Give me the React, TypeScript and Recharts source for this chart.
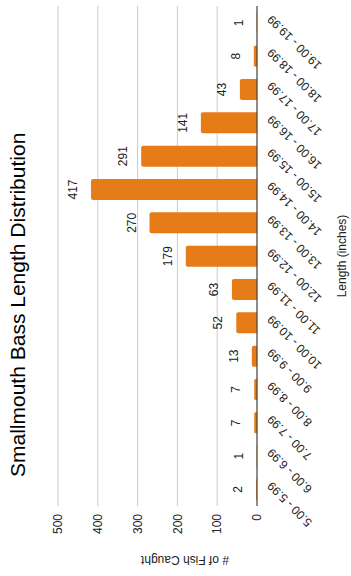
import React from "react";
import { BarChart, Bar, XAxis, YAxis, CartesianGrid, LabelList } from "recharts";

const categories = [
  "5.00 - 5.99",
  "6.00 - 6.99",
  "7.00 - 7.99",
  "8.00 - 8.99",
  "9.00 - 9.99",
  "10.00 - 10.99",
  "11.00 - 11.99",
  "12.00 - 12.99",
  "13.00 - 13.99",
  "14.00 - 14.99",
  "15.00 - 15.99",
  "16.00 - 16.99",
  "17.00 - 17.99",
  "18.00 - 18.99",
  "19.00 - 19.99",
];
const fishCaught = [2, 1, 7, 7, 13, 52, 63, 179, 270, 417, 291, 141, 43, 8, 1];
const yTicks = [0, 100, 200, 300, 400, 500];

const title = "Smallmouth Bass Length Distribution";
const xLabel = "Length (inches)";
const yLabel = "# of Fish Caught";

const data = categories.map((c, i) => ({ category: c, value: fishCaught[i] }));

const FONT = "'Liberation Sans', Arial, sans-serif";
const W = 576;
const H = 351;

const CategoryTick = (props: any) => {
  const { x, y, payload } = props;
  return (
    <g transform={`translate(${x + 4},${y + 3})`}>
      <text
        x={0}
        y={0}
        dy={6}
        textAnchor="end"
        transform="rotate(-45)"
        fontSize={12}
        fontFamily={FONT}
        fill="#222"
      >
        {payload.value}
      </text>
    </g>
  );
};

export default function App() {
  return (
    <div
      style={{
        position: "absolute",
        left: 0,
        top: 0,
        width: 351,
        height: 576,
        overflow: "hidden",
        background: "#fff",
      }}
    >
      <div
        style={{
          position: "absolute",
          left: 0,
          top: 0,
          width: W,
          height: H,
          transformOrigin: "0 0",
          transform: `translate(0px, ${W}px) rotate(-90deg)`,
        }}
      >
        <BarChart
          width={W}
          height={H}
          data={data}
          margin={{ top: 58, right: 6, bottom: 34, left: 0 }}
        >
          <CartesianGrid vertical={false} stroke="#cccccc" />
          <XAxis
            dataKey="category"
            interval={0}
            height={60}
            tickLine={false}
            axisLine={{ stroke: "#333333" }}
            tick={<CategoryTick />}
          />
          <YAxis
            width={70}
            domain={[0, 500]}
            ticks={yTicks}
            tickLine={false}
            axisLine={false}
            tick={{ fontSize: 12, fontFamily: FONT, fill: "#222" }}
          />
          <Bar
            dataKey="value"
            fill="#e67c18"
            barSize={21}
            radius={[2, 2, 0, 0]}
            isAnimationActive={false}
          >
            <LabelList
              dataKey="value"
              position="top"
              offset={14}
              fontSize={12}
              fontFamily={FONT}
              fill="#222"
            />
          </Bar>
        </BarChart>
        <svg
          width={W}
          height={H}
          style={{ position: "absolute", left: 0, top: 0, pointerEvents: "none" }}
        >
          <text x={99} y={25} fontSize={21} fontFamily={FONT} fill="#000">
            {title}
          </text>
          <text
            x={0}
            y={0}
            transform="translate(20,185) rotate(-90)"
            textAnchor="middle"
            fontSize={12}
            fontFamily={FONT}
            fill="#222"
          >
            {yLabel}
          </text>
          <text
            x={320}
            y={346}
            textAnchor="middle"
            fontSize={12}
            fontFamily={FONT}
            fill="#222"
          >
            {xLabel}
          </text>
        </svg>
      </div>
    </div>
  );
}
